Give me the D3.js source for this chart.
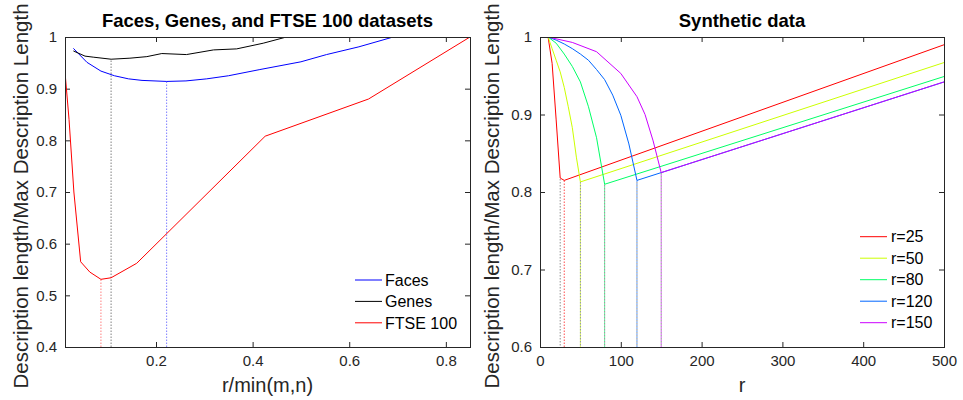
<!DOCTYPE html>
<html><head><meta charset="utf-8">
<script src="https://cdn.jsdelivr.net/npm/d3@7"></script>
<style>
body{margin:0;background:#fff}
svg text{font-family:"Liberation Sans",Arial,Helvetica,sans-serif;fill:#262626}
</style>
</head><body><svg id="c" width="963" height="400"></svg>
<script>
// ---------- Left panel data ----------
const leftTitle = "Faces, Genes, and FTSE 100 datasets";
const leftXLabel = "r/min(m,n)";
const yLabel = "Description length/Max Description Length";
const leftXTicks = [0.2, 0.4, 0.6, 0.8];
const leftYTicks = [0.4, 0.5, 0.6, 0.7, 0.8, 0.9, 1.0];
const leftNames = ["Faces", "Genes", "FTSE 100"];
const leftColors = ["#0000ff", "#000000", "#ff0000"];
const leftMinColors = ["#7f7fff", "#808080", "#ff7f7f"];

const facesX = [0.029, 0.057, 0.086, 0.114, 0.143, 0.171, 0.222, 0.262, 0.305, 0.35, 0.415, 0.5, 0.553, 0.62, 0.691];
const facesY = [0.978, 0.951, 0.934, 0.925, 0.919, 0.916, 0.914, 0.915, 0.919, 0.925, 0.937, 0.952, 0.966, 0.981, 1.0];
const genesX = [0.029, 0.053, 0.070, 0.107, 0.146, 0.181, 0.212, 0.263, 0.319, 0.367, 0.422, 0.47, 0.526];
const genesY = [0.973, 0.963, 0.961, 0.957, 0.959, 0.962, 0.968, 0.966, 0.975, 0.977, 0.988, 1.0, 1.0];
const ftseX = [0.0116, 0.020, 0.030, 0.044, 0.063, 0.086, 0.107, 0.160, 0.426, 0.64, 0.85];
const ftseY = [0.932, 0.84, 0.70, 0.565, 0.545, 0.531, 0.534, 0.562, 0.808, 0.880, 1.0];

// ---------- Right panel data ----------
const rightTitle = "Synthetic data";
const rightXLabel = "r";
const rightXTicks = [0, 100, 200, 300, 400, 500];
const rightYTicks = [0.6, 0.7, 0.8, 0.9, 1.0];
const trueRanks = [25, 50, 80, 120, 150];
const rightNames = ["r=25", "r=50", "r=80", "r=120", "r=150"];
const rightColors = ["#ff0000", "#ccff00", "#00ff66", "#0066ff", "#cc00ff"];

const s25R = [10, 15, 20, 25, 30, 500];
const s25V = [1.0, 0.966, 0.893, 0.818, 0.815, 0.990];
const s50R = [10, 15, 20, 25, 30, 35, 40, 45, 50, 500];
const s50V = [1.0, 0.985, 0.97, 0.955, 0.935, 0.91, 0.883, 0.845, 0.813, 0.967];
const s80R = [10, 20, 30, 40, 50, 60, 70, 80, 500];
const s80V = [1.0, 0.992, 0.978, 0.962, 0.942, 0.91, 0.87, 0.81, 0.949];
const s120R = [10, 20, 30, 40, 50, 60, 70, 80, 90, 100, 110, 120, 500];
const s120V = [1.0, 0.996, 0.991, 0.985, 0.978, 0.97, 0.958, 0.945, 0.925, 0.899, 0.862, 0.815, 0.942];
const s150R = [10, 40, 70, 100, 120, 130, 140, 150, 500];
const s150V = [1.0, 0.993, 0.981, 0.953, 0.923, 0.9, 0.866, 0.825, 0.942];

// ---------- Drawing ----------
const svg = d3.select("#c");
const AX = "#262626";
const TICK_FS = 15, LABEL_FS = 20.5, XLABEL_FS = 20, TITLE_FS = 18.5, LEG_FS = 16;

const xL = d3.scaleLinear().domain([0.0116, 0.85]).range([65, 470]);
const yL = d3.scaleLinear().domain([0.4, 1.0]).range([347, 37]);
const xR = d3.scaleLinear().domain([0, 500]).range([540, 944]);
const yR = d3.scaleLinear().domain([0.6, 1.0]).range([347, 37]);

const fmt = d => String(+(+d).toFixed(2));

function drawAxes(id, x, y, xt, yt) {
  const [x0, x1] = x.range(), [y0, y1] = y.range();
  const style = g => {
    g.select(".domain").remove();
    g.attr("font-size", null).attr("font-family", null).style("color", AX);
    g.selectAll("text").style("font-size", TICK_FS + "px");
    g.selectAll("line").attr("stroke-width", 1);
  };
  svg.append("g").attr("transform", `translate(0,${y0})`)
    .call(d3.axisBottom(x).tickValues(xt).tickSize(-5).tickPadding(8).tickFormat(fmt)).call(style);
  svg.append("g").attr("transform", `translate(0,${y1})`)
    .call(d3.axisTop(x).tickValues(xt).tickSize(-5).tickFormat("")).call(style);
  svg.append("g").attr("transform", `translate(${x0},0)`)
    .call(d3.axisLeft(y).tickValues(yt).tickSize(-5).tickPadding(8).tickFormat(fmt)).call(style);
  svg.append("g").attr("transform", `translate(${x1},0)`)
    .call(d3.axisRight(y).tickValues(yt).tickSize(-5).tickFormat("")).call(style);
  svg.append("defs").append("clipPath").attr("id", id)
    .append("rect").attr("x", x0).attr("y", y1).attr("width", x1 - x0).attr("height", y0 - y1);
}

function drawFrame(x, y) {
  const [x0, x1] = x.range(), [y0, y1] = y.range();
  svg.append("rect").attr("x", x0 + 0.5).attr("y", y1 + 0.5)
    .attr("width", x1 - x0).attr("height", y0 - y1)
    .attr("fill", "none").attr("stroke", AX).attr("stroke-width", 1);
}

function titles(x, y, title, xlab, ylabX) {
  const [x0, x1] = x.range(), [y0, y1] = y.range();
  const cx = (x0 + x1) / 2;
  svg.append("text").attr("x", cx).attr("y", 27).attr("text-anchor", "middle")
    .style("font-size", TITLE_FS + "px").style("font-weight", "bold").style("fill", "#000").text(title);
  svg.append("text").attr("x", cx).attr("y", 392).attr("text-anchor", "middle")
    .style("font-size", XLABEL_FS + "px").text(xlab);
  svg.append("text").attr("transform", `translate(${ylabX},196) rotate(-90)`)
    .attr("text-anchor", "middle").style("font-size", LABEL_FS + "px").text(yLabel);
}

const line = (x, y) => d3.line().x(d => x(d[0])).y(d => y(d[1]));

// ----- Left panel -----
drawAxes("clipL", xL, yL, leftXTicks, leftYTicks);
const leftSeries = [[facesX, facesY], [genesX, genesY], [ftseX, ftseY]];
const gL = svg.append("g").attr("clip-path", "url(#clipL)");
leftSeries.forEach(([xs, ys], i) => {
  const k = d3.minIndex(ys);
  gL.append("line").attr("x1", xL(xs[k])).attr("x2", xL(xs[k]))
    .attr("y1", yL(0.4)).attr("y2", yL(ys[k]))
    .attr("stroke", leftMinColors[i]).attr("stroke-width", 1).attr("stroke-dasharray", "1.5,1.5");
});
leftSeries.forEach(([xs, ys], i) => {
  gL.append("path").datum(xs.map((v, j) => [v, ys[j]]))
    .attr("d", line(xL, yL)).attr("fill", "none")
    .attr("stroke", leftColors[i]).attr("stroke-width", 1);
});
drawFrame(xL, yL);
titles(xL, yL, leftTitle, leftXLabel, 28);

const legL = svg.append("g");
leftNames.forEach((n, i) => {
  const yy = 280 + i * 21.4;
  legL.append("line").attr("x1", 355).attr("x2", 382).attr("y1", yy).attr("y2", yy)
    .attr("stroke", leftColors[i]).attr("stroke-width", 1);
  legL.append("text").attr("x", 385).attr("y", yy).attr("dy", "0.36em")
    .style("font-size", LEG_FS + "px").style("fill", "#000").text(n);
});

// ----- Right panel -----
drawAxes("clipR", xR, yR, rightXTicks, rightYTicks);
const rightSeries = [[s25R, s25V], [s50R, s50V], [s80R, s80V], [s120R, s120V], [s150R, s150V]];
const gR = svg.append("g").attr("clip-path", "url(#clipR)");
rightSeries.forEach(([rs, vs], i) => {
  const k = d3.minIndex(vs);
  gR.append("line").attr("x1", xR(rs[k])).attr("x2", xR(rs[k]))
    .attr("y1", yR(0.6)).attr("y2", yR(vs[k]))
    .attr("stroke", rightColors[i]).attr("stroke-opacity", 0.7)
    .attr("stroke-width", 1).attr("stroke-dasharray", "1.5,1.5");
  const tr = trueRanks[i];
  const tv = vs[rs.indexOf(tr)];
  gR.append("line").attr("x1", xR(tr)).attr("x2", xR(tr))
    .attr("y1", yR(0.6)).attr("y2", yR(tv))
    .attr("stroke", "#333").attr("stroke-opacity", 0.55)
    .attr("stroke-width", 1).attr("stroke-dasharray", "1.5,1.5").attr("stroke-dashoffset", 1.5);
});
rightSeries.forEach(([rs, vs], i) => {
  gR.append("path").datum(rs.map((v, j) => [v, vs[j]]))
    .attr("d", line(xR, yR)).attr("fill", "none")
    .attr("stroke", rightColors[i]).attr("stroke-width", 1);
});
drawFrame(xR, yR);
titles(xR, yR, rightTitle, rightXLabel, 499);

const legR = svg.append("g");
rightNames.forEach((n, i) => {
  const yy = 236.7 + i * 21.5;
  legR.append("line").attr("x1", 860).attr("x2", 887).attr("y1", yy).attr("y2", yy)
    .attr("stroke", rightColors[i]).attr("stroke-width", 1);
  legR.append("text").attr("x", 891).attr("y", yy).attr("dy", "0.36em")
    .style("font-size", LEG_FS + "px").style("fill", "#000").text(n);
});
</script></body></html>
